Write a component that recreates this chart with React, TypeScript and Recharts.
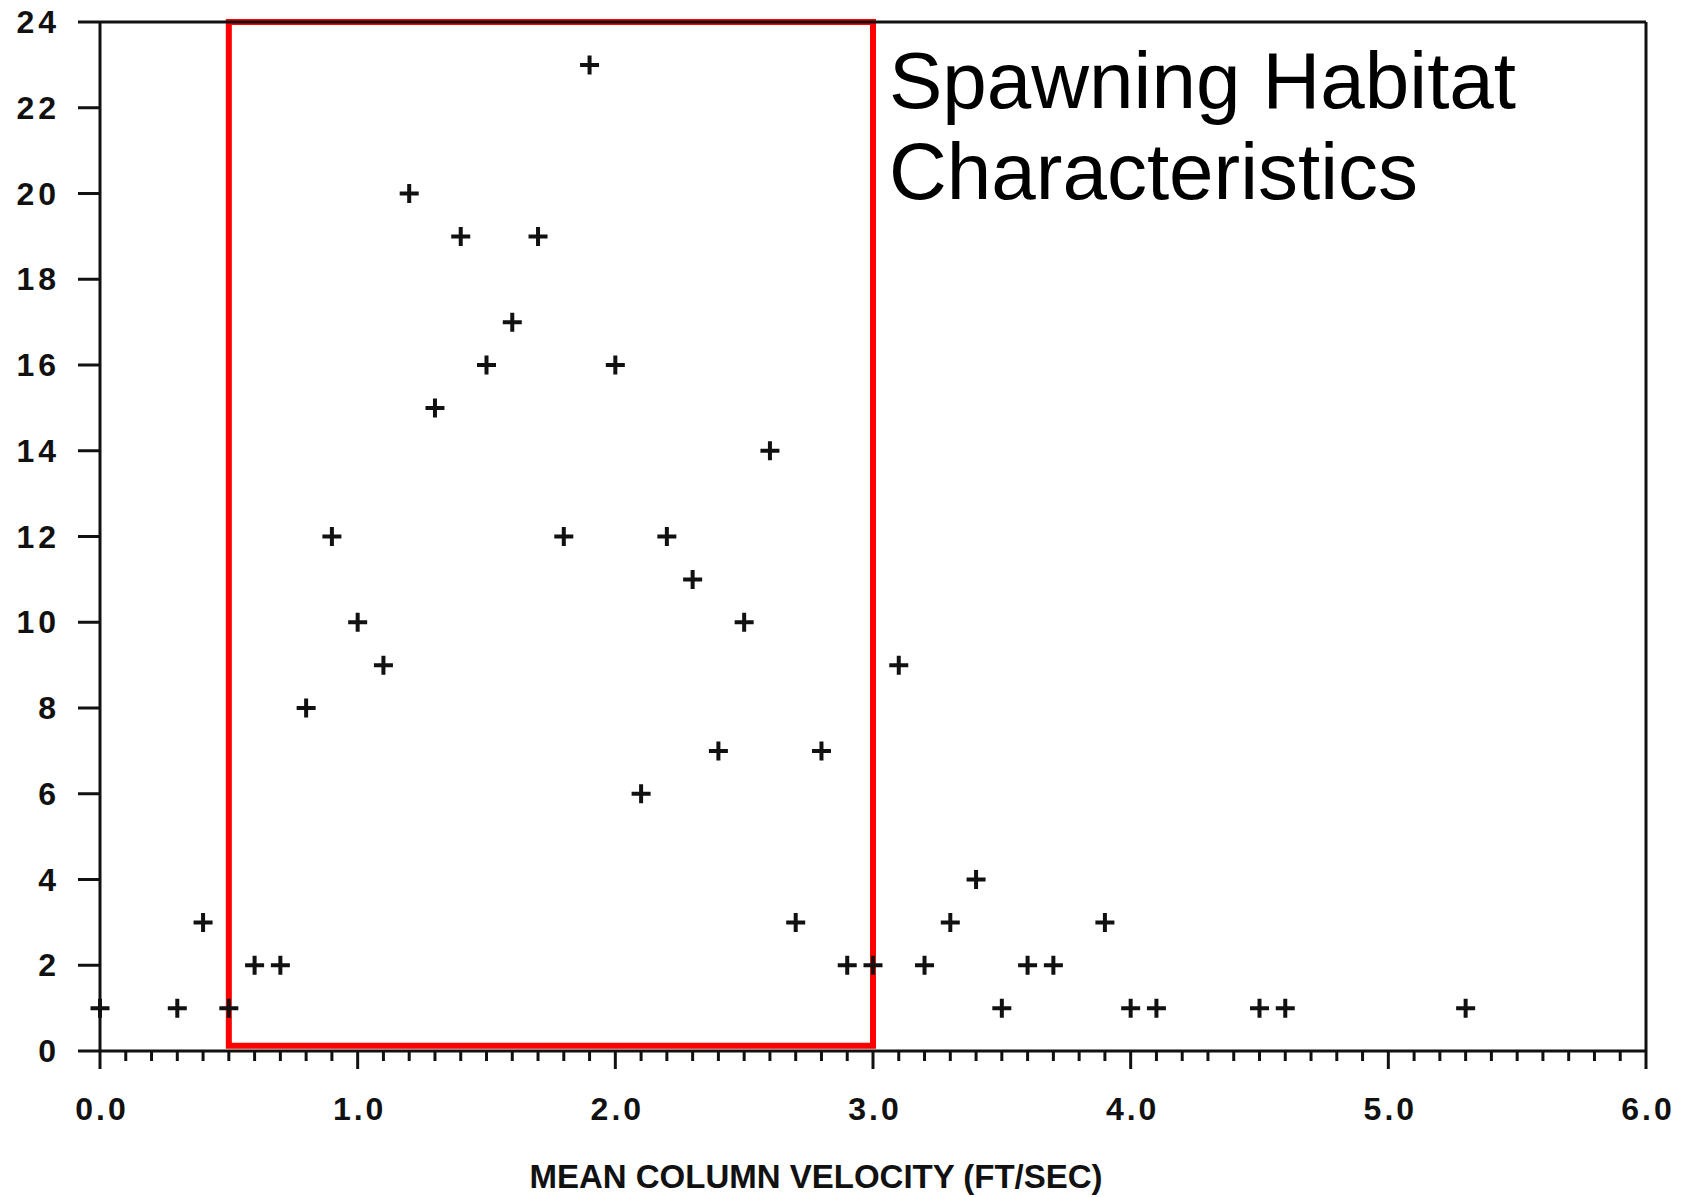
import React from 'react';
import { ScatterChart, Scatter, XAxis, YAxis, ReferenceArea, ReferenceLine, Label } from 'recharts';

// Mean column velocity (ft/sec) and count for each observed point
const velocity = [0, 0.3, 0.4, 0.5, 0.6, 0.7, 0.8, 0.9, 1.0, 1.1, 1.2, 1.3, 1.4, 1.5, 1.6, 1.7, 1.8, 1.9, 2.0, 2.1, 2.2, 2.3, 2.4, 2.5, 2.6, 2.7, 2.8, 2.9, 3.0, 3.1, 3.2, 3.3, 3.4, 3.5, 3.6, 3.7, 3.9, 4.0, 4.1, 4.5, 4.6, 5.3];
const count = [1, 1, 3, 1, 2, 2, 8, 12, 10, 9, 20, 15, 19, 16, 17, 19, 12, 23, 16, 6, 12, 11, 7, 10, 14, 3, 7, 2, 2, 9, 2, 3, 4, 1, 2, 2, 3, 1, 1, 1, 1, 1];

const yTicks = [0, 2, 4, 6, 8, 10, 12, 14, 16, 18, 20, 22, 24];
const xMajorTicks = [0, 1, 2, 3, 4, 5, 6];
const xTickLabels = ['0.0', '1.0', '2.0', '3.0', '4.0', '5.0', '6.0'];
const xMinorTicks = Array.from({ length: 61 }, (_, i) => i / 10);

const xTitle = 'MEAN COLUMN VELOCITY (FT/SEC)';
const noteLines = ['Spawning Habitat', 'Characteristics'];
const habitatRange = { x1: 0.5, x2: 3.0, y1: 0.12, y2: 24 };

const data = velocity.map((v, i) => ({ v, n: count[i] }));

const INK = '#111111';
const FONT = '"Liberation Sans", Arial, Helvetica, sans-serif';

const Plus = (props: any) => {
  const { cx, cy } = props;
  if (cx == null || cy == null) return null;
  const h = 9.5;
  return (
    <path
      d={`M${cx - h},${cy}H${cx + h}M${cx},${cy - h}V${cy + h}`}
      stroke={INK}
      strokeWidth={4}
      fill="none"
    />
  );
};

const XTick = (props: any) => {
  const { x, y, payload } = props;
  const v = payload.value as number;
  const idx = xMajorTicks.findIndex((m) => Math.abs(m - v) < 1e-6);
  const major = idx >= 0;
  return (
    <g>
      <line x1={x} y1={y} x2={x} y2={y + (major ? 18 : 10)} stroke={INK} strokeWidth={3} />
      {major && (
        <text
          x={x + 2}
          y={y + 69}
          textAnchor="middle"
          fontFamily={FONT}
          fontWeight="bold"
          fontSize={32}
          letterSpacing={3}
          fill={INK}
        >
          {xTickLabels[idx]}
        </text>
      )}
    </g>
  );
};

const YTick = (props: any) => {
  const { x, y, payload } = props;
  return (
    <text
      x={x + 4}
      y={y}
      dy={11}
      textAnchor="end"
      fontFamily={FONT}
      fontWeight="bold"
      fontSize={32}
      letterSpacing={4}
      fill={INK}
    >
      {String(payload.value)}
    </text>
  );
};

const renderXTitle = (props: any) => {
  const vb = props.viewBox || {};
  return (
    <text
      x={vb.x + vb.width / 2 - 57}
      y={vb.y + 137}
      textAnchor="middle"
      fontFamily={FONT}
      fontWeight="bold"
      fontSize={33}
      fill={INK}
    >
      {xTitle}
    </text>
  );
};

const renderNote = (props: any) => {
  const vb = props.viewBox || {};
  const x0 = vb.x + vb.width + 16;
  return (
    <text fontFamily={FONT} fontSize={80} fill="#000">
      <tspan x={x0} y={vb.y + 86}>{noteLines[0]}</tspan>
      <tspan x={x0} y={vb.y + 177}>{noteLines[1]}</tspan>
    </text>
  );
};

export default function App() {
  return (
    <div style={{ position: 'absolute', left: 0, top: 0, background: '#fff' }}>
      <ScatterChart
        width={1694}
        height={1197}
        margin={{ top: 22, right: 48, bottom: 0, left: 0 }}
      >
        <XAxis
          type="number"
          dataKey="v"
          domain={[0, 6]}
          ticks={xMinorTicks}
          interval={0}
          height={146}
          axisLine={{ stroke: INK, strokeWidth: 3 }}
          tickLine={false}
          tickSize={0}
          tickMargin={0}
          tick={<XTick />}
        >
          <Label content={renderXTitle} />
        </XAxis>
        <YAxis
          type="number"
          dataKey="n"
          domain={[0, 24]}
          ticks={yTicks}
          interval={0}
          width={100}
          axisLine={{ stroke: INK, strokeWidth: 3 }}
          tickLine={{ stroke: INK, strokeWidth: 3 }}
          tickSize={22}
          tickMargin={22}
          tick={<YTick />}
        />
        <ReferenceLine y={24} stroke={INK} strokeWidth={3} />
        <ReferenceLine x={6} stroke={INK} strokeWidth={3} />
        <Scatter data={data} shape={<Plus />} isAnimationActive={false} />
        <ReferenceArea
          x1={habitatRange.x1}
          x2={habitatRange.x2}
          y1={habitatRange.y1}
          y2={habitatRange.y2}
          fill="none"
          fillOpacity={0}
          stroke="#ff0000"
          strokeWidth={6}
          ifOverflow="visible"
        >
          <Label content={renderNote} />
        </ReferenceArea>
      </ScatterChart>
    </div>
  );
}
